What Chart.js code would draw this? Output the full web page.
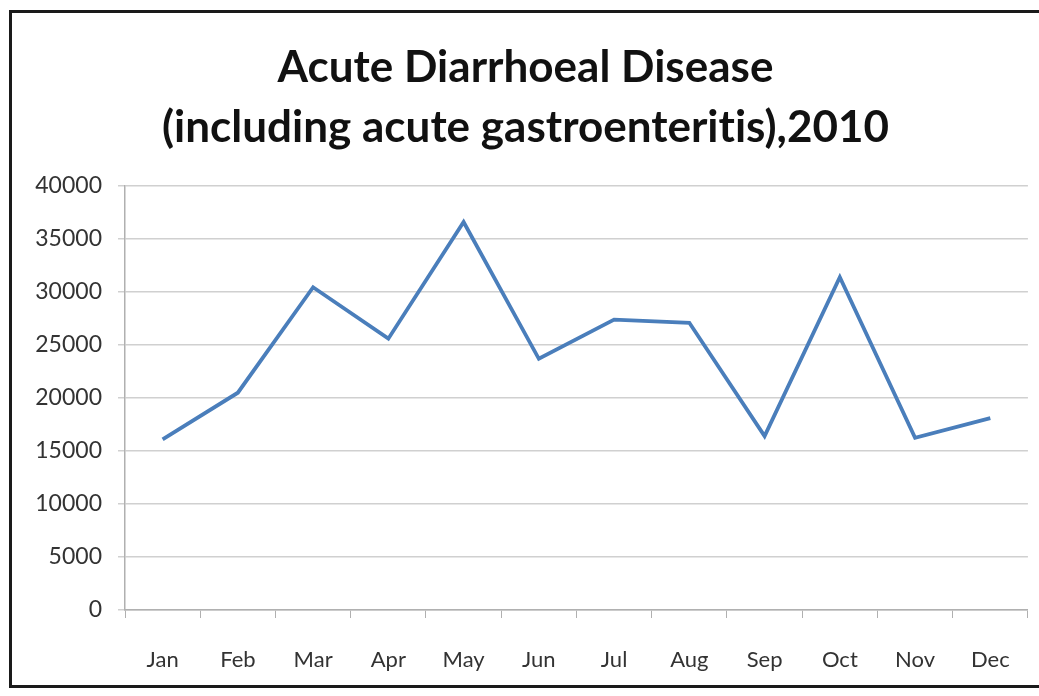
<!DOCTYPE html>
<html>
<head>
<meta charset="utf-8">
<script src="https://cdn.jsdelivr.net/npm/chart.js@4.4.1/dist/chart.umd.min.js"></script>
<style>
  html, body { margin: 0; padding: 0; background: #fff; overflow: hidden; }
  #wrap { position: relative; width: 1039px; height: 696px; }
  #frame { position: absolute; left: 9px; top: 10px; width: 1060px; height: 678px; border: 3px solid #1a1a1a; box-sizing: border-box; pointer-events: none; }
  canvas { position: absolute; left: 0; top: 0; }
</style>
</head>
<body>
<div id="wrap">
  <canvas id="c" width="1039" height="696"></canvas>
  <div id="frame"></div>
</div>
<script>
const titleLines = ["Acute Diarrhoeal Disease", "(including acute gastroenteritis),2010"];
const months = ["Jan","Feb","Mar","Apr","May","Jun","Jul","Aug","Sep","Oct","Nov","Dec"];
const cases = [16100, 20500, 30450, 25600, 36600, 23700, 27400, 27100, 16400, 31400, 16250, 18100];
const yMin = 0, yMax = 40000, yStep = 5000;

const noLigatures = {
  id: 'noLigatures',
  beforeInit(chart) { if ('letterSpacing' in chart.ctx) chart.ctx.letterSpacing = '0.01px'; },
  beforeDraw(chart) { if ('letterSpacing' in chart.ctx) chart.ctx.letterSpacing = '0.01px'; }
};

new Chart(document.getElementById('c'), {
  type: 'line',
  plugins: [noLigatures],
  data: {
    labels: months,
    datasets: [{
      data: cases,
      borderColor: '#4a7ebb',
      borderWidth: 3.8,
      pointRadius: 0,
      tension: 0,
      fill: false
    }]
  },
  options: {
    responsive: false,
    animation: false,
    layout: { padding: { left: 20, right: 8, top: 8, bottom: 24 } },
    plugins: {
      legend: { display: false },
      tooltip: { enabled: false },
      title: {
        display: true,
        text: titleLines,
        color: '#111',
        font: { family: 'Lato', weight: 'bold', size: 44, lineHeight: 1.364 },
        padding: { top: 30, bottom: 28 }
      }
    },
    scales: {
      x: {
        offset: true,
        afterFit: s => { s.height = 62; },
        grid: { offset: true, drawOnChartArea: false, drawTicks: true, tickLength: 8, color: '#b0b0b0' },
        border: { color: '#b0b0b0', width: 1.5 },
        ticks: { color: '#333', padding: 29, font: { family: 'Lato', size: 22 } }
      },
      y: {
        min: yMin, max: yMax,
        afterFit: s => { s.width = 105; },
        grid: { color: '#d0d0d0', lineWidth: 1.5, drawTicks: true, tickLength: 7 },
        border: { color: '#b0b0b0', width: 1.5 },
        ticks: { stepSize: yStep, color: '#333', padding: 16, font: { family: 'Lato', size: 23 },
                 callback: v => String(v) }
      }
    }
  }
});
</script>
</body>
</html>
